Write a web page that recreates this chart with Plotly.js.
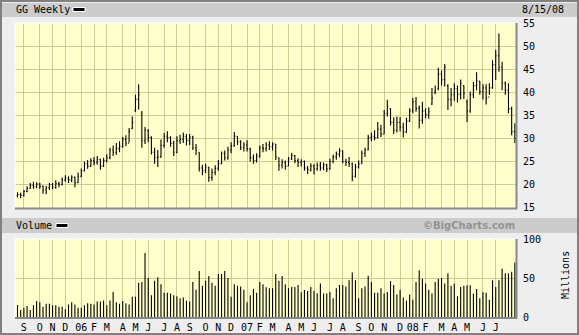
<!DOCTYPE html>
<html><head><meta charset="utf-8">
<script src="https://cdn.plot.ly/plotly-3.0.1.min.js"></script>
<style>html,body{margin:0;padding:0;background:#eeeeee;}#chart{width:579px;height:335px;}</style>
</head><body><div id="chart"></div>
<script>
// Weekly bars (Fridays) from 2005-08-19 to 2008-08-15
const startDate = '2005-08-19';
const weekCount = 157;

const openPrices = [17.5,17.8,17.6,18.5,19.2,19.8,19.5,20.1,19.6,18.8,
19.3,20.0,19.4,20.2,20.0,21.0,21.4,21.0,21.6,20.4,
21.8,23.0,24.5,24.0,25.2,24.8,25.5,24.0,25.2,25.8,
27.5,27.0,27.8,28.3,29.8,29.0,32.2,36.0,38.5,35.5,
29.5,31.8,30.2,27.0,25.8,26.0,28.5,30.5,30.2,29.0,
27.0,29.5,29.8,30.5,29.6,30.3,28.0,27.0,23.6,23.0,
23.8,21.5,22.6,23.5,24.5,26.8,25.8,27.5,28.4,30.5,
29.3,28.0,28.6,27.8,25.8,25.2,26.2,28.0,27.8,28.6,
28.2,28.8,25.8,24.2,24.8,24.0,25.6,26.3,25.2,24.8,
25.0,23.6,23.2,24.0,23.4,24.2,23.6,24.3,23.4,25.0,
26.0,26.6,27.3,25.0,24.8,24.5,21.8,23.8,24.5,26.8,
27.5,30.2,30.5,30.2,32.0,31.0,35.5,36.5,33.5,31.8,
33.5,32.5,31.5,33.8,36.0,38.0,36.5,34.0,36.0,35.2,
37.5,40.0,40.8,44.0,42.8,41.5,38.5,39.5,40.8,39.6,
41.5,38.0,36.0,39.5,41.5,42.5,40.2,41.0,39.0,41.0,
46.0,48.0,45.5,42.0,40.5,36.5,31.5];

const highPrices = [18.3,18.2,18.8,19.6,20.3,20.6,20.5,20.4,19.8,19.7,
20.4,20.3,20.9,20.6,21.5,22.0,21.8,22.0,21.7,22.6,
23.5,25.0,25.3,25.7,26.0,26.2,25.6,25.8,26.6,28.0,
28.5,29.0,29.4,30.4,30.7,32.3,34.8,39.5,41.8,36.0,
32.5,32.0,30.5,28.0,27.5,29.8,31.2,31.6,30.5,29.5,
30.5,30.8,31.3,31.0,31.0,30.6,28.8,27.0,24.3,24.5,
23.8,23.5,24.2,25.3,27.2,27.4,28.2,29.2,31.4,30.5,
29.6,29.2,29.6,28.0,26.5,26.8,28.5,28.8,29.2,29.4,
29.2,28.8,25.8,25.5,25.2,26.0,26.9,26.4,25.7,25.5,
25.2,24.0,24.6,24.4,24.8,24.9,24.8,24.5,25.6,26.5,
27.2,27.9,27.4,25.6,26.0,24.8,24.5,25.2,27.4,28.0,
30.8,31.3,31.8,33.6,33.0,36.2,38.4,36.6,34.6,34.8,
34.7,33.4,34.5,36.6,38.8,39.0,37.2,38.0,36.6,36.8,
41.0,41.5,45.4,44.8,46.2,41.8,41.0,42.0,41.5,42.8,
41.5,38.5,40.2,42.3,44.4,42.5,41.8,41.8,42.0,47.0,
49.3,52.8,46.7,42.4,42.0,36.9,33.3];

const lowPrices = [17.2,17.0,17.4,18.3,19.0,19.1,19.2,19.0,18.0,17.9,
18.8,19.0,19.1,19.4,19.8,20.6,20.3,20.5,19.4,20.3,
21.6,22.8,23.4,23.8,24.2,24.3,23.2,23.8,24.8,25.5,
26.2,26.4,27.0,28.0,28.3,29.2,32.0,35.8,36.3,28.0,
28.8,29.2,26.5,24.5,23.8,25.8,28.0,29.2,28.2,26.2,
26.8,28.8,29.0,28.5,28.6,27.5,26.4,22.8,22.0,22.5,
20.6,20.8,22.0,23.0,24.4,25.2,25.4,26.8,28.2,28.6,
27.5,27.2,27.2,25.0,24.5,24.8,25.8,27.0,27.2,27.5,
27.4,25.3,23.0,23.5,23.2,24.0,25.3,24.6,23.8,23.9,
23.0,22.3,22.8,22.2,23.0,23.0,23.1,22.7,23.2,24.6,
25.4,25.9,24.6,24.0,23.8,20.7,21.5,23.5,24.5,26.0,
27.4,29.4,29.6,30.0,30.3,31.0,34.8,32.8,31.0,31.3,
31.5,30.2,31.2,33.6,35.5,35.8,32.2,33.2,34.4,34.3,
37.3,39.6,40.5,41.5,41.3,36.2,37.0,38.2,37.8,38.5,
38.6,33.6,35.6,38.8,40.5,39.5,38.5,37.4,39.5,40.8,
42.7,44.5,40.5,39.5,35.5,30.7,29.0];

const closePrices = [17.8,17.6,18.5,19.2,19.8,19.5,20.1,19.6,18.8,19.3,
20.0,19.4,20.2,20.0,21.0,21.4,21.0,21.6,20.4,21.8,
23.0,24.5,24.0,25.2,24.8,25.5,24.0,25.2,25.8,27.5,
27.0,27.8,28.3,29.8,29.0,31.5,33.5,38.5,39.5,29.5,
31.8,30.2,27.0,25.8,26.0,28.5,30.5,30.2,29.0,27.0,
29.5,29.8,30.5,29.6,30.3,28.0,27.5,23.6,23.0,23.8,
21.5,22.6,23.5,24.5,26.8,25.8,27.5,28.4,30.5,29.3,
28.0,28.6,27.8,25.8,25.2,26.2,28.0,27.8,28.6,28.2,
28.8,26.0,24.2,24.8,24.0,25.6,26.3,25.2,24.8,25.0,
23.6,23.2,24.0,23.4,24.2,23.6,24.3,23.4,25.0,26.0,
26.6,27.3,25.0,24.8,24.5,21.8,23.8,24.5,26.8,27.5,
30.2,30.5,30.2,32.0,31.0,35.5,37.0,33.5,31.8,33.5,
32.5,31.5,33.8,36.0,38.0,36.5,34.0,36.0,35.2,35.8,
38.8,40.5,44.0,42.8,45.5,38.5,39.5,40.8,39.6,42.0,
39.8,36.0,39.5,41.5,42.5,40.2,41.0,38.8,41.0,46.0,
48.0,45.5,42.0,40.5,36.5,31.5,30.0];

// Volume, millions of shares
const volumeMillions = [15.4,9,12,14,9,15,20.5,19,13,17,
17,15,15,13,13,10,16,19,16,12,
12,15,17.5,17,16,20,20,21,15,21,
32,19,17,20.5,17.5,16,26,26,44,45,
82,50,28,46.5,51,42,31,31,30,28,
26.5,24,25,21,20,45,35,59,40,46.5,
52.5,44,40,55,55,59,50,26,42,40,
39,35,19,28,36,31,45,42,38,37,
37,55,46.5,52.5,42,37,38.5,38.5,
41,31.6,34.6,33.3,38.5,33.3,30.3,
43,30,30,32,24,37,41,41,39,47,
57,47,24,37,39,53,45,31,31,37,
30,32,46,41,29,35,25,21,29,22,45,
60,49,43,35,30,45,49,50,43,56,
40,43,26.5,38.5,40,40.6,40.6,30,36,24,
32,31,22,47,38.5,47,62,56,56,58,70];

// Month ticks (first weekly bar of each month)
const monthTickDates = ['2005-09-02','2005-10-07','2005-11-04','2005-12-02','2006-01-06','2006-02-03','2006-03-03','2006-04-07','2006-05-05','2006-06-02','2006-07-07','2006-08-04','2006-09-01','2006-10-06','2006-11-03','2006-12-01','2007-01-05','2007-02-02','2007-03-02','2007-04-06','2007-05-04','2007-06-01','2007-07-06','2007-08-03','2007-09-07','2007-10-05','2007-11-02','2007-12-07','2008-01-04','2008-02-01','2008-03-07','2008-04-04','2008-05-02','2008-06-06','2008-07-04'];
const monthTickLabels = ['S','O','N','D','06','F','M','A','M','J','J','A','S','O','N','D','07','F','M','A','M','J','J','A','S','O','N','D','08','F','M','A','M','J','J'];
const priceTicks = [15,20,25,30,35,40,45,50,55];
const volumeTicks = [0,50,100];

const dates = [];
{
  const d0 = new Date(startDate + 'T00:00:00Z');
  for (let i = 0; i < weekCount; i++) {
    const d = new Date(d0.getTime() + i * 7 * 86400000);
    dates.push(d.toISOString().slice(0, 10));
  }
}

const W = 579, H = 335;
const px = v => v / W;
const py = v => 1 - v / H;

const GRID = '#cccc90';
const MONO = 'DejaVu Sans Mono, monospace';
const xRange = ['2005-08-13 12:00', '2008-08-17 12:00'];
const xDomain = [px(15), px(516)];

const traces = [
  {
    type: 'ohlc', x: dates, open: openPrices, high: highPrices, low: lowPrices, close: closePrices,
    xaxis: 'x', yaxis: 'y', tickwidth: 0.3,
    increasing: {line: {color: '#000000', width: 1.1}},
    decreasing: {line: {color: '#000000', width: 1.1}},
    hoverinfo: 'skip'
  },
  {
    type: 'bar', x: dates, y: volumeMillions, xaxis: 'x2', yaxis: 'y2',
    width: 2.4 * 86400000, marker: {color: '#000000', line: {width: 0}},
    hoverinfo: 'skip'
  }
];

const baseX = {
  type: 'date', domain: xDomain, range: xRange, tickmode: 'array',
  tickvals: monthTickDates, showgrid: true, gridcolor: GRID, gridwidth: 1,
  zeroline: false, showline: false, ticks: '', fixedrange: true
};

const layout = {
  width: W, height: H, margin: {l: 0, r: 0, t: 0, b: 0},
  paper_bgcolor: '#eeeeee', plot_bgcolor: '#ffffcc', showlegend: false,
  xaxis: Object.assign({}, baseX, {anchor: 'y', showticklabels: false, rangeslider: {visible: false}}),
  yaxis: {
    domain: [127.5 / H, 311.5 / H], range: [15, 55], side: 'right', anchor: 'x',
    tickmode: 'array', tickvals: priceTicks, ticktext: priceTicks.map(String),
    showgrid: true, gridcolor: GRID, zeroline: false, showline: false, ticks: '',
    ticklabelstandoff: 6, tickfont: {family: MONO, size: 10, color: '#000'}
  },
  xaxis2: Object.assign({}, baseX, {anchor: 'y2', showticklabels: true, ticktext: monthTickLabels,
    tickfont: {family: MONO, size: 10, color: '#000'}, ticklabelstandoff: 3}),
  yaxis2: {
    domain: [18 / H, 96 / H], range: [0, 100], side: 'right', anchor: 'x2',
    tickmode: 'array', tickvals: volumeTicks, ticktext: volumeTicks.map(String),
    showgrid: true, gridcolor: GRID, zeroline: false, showline: false, ticks: '',
    ticklabelstandoff: 6, tickfont: {family: MONO, size: 10, color: '#000'}
  },
  shapes: [
    {type: 'rect', xref: 'paper', yref: 'paper', x0: px(2), x1: px(577), y0: py(17), y1: py(3), fillcolor: '#cccccc', line: {width: 0}, layer: 'below'},
    {type: 'rect', xref: 'paper', yref: 'paper', x0: px(2), x1: px(577), y0: py(233), y1: py(218), fillcolor: '#cccccc', line: {width: 0}, layer: 'below'},
    {type: 'rect', xref: 'paper', yref: 'paper', x0: px(73), x1: px(85), y0: py(11.5), y1: py(7.5), fillcolor: '#000', line: {color: '#fff', width: 1}},
    {type: 'rect', xref: 'paper', yref: 'paper', x0: px(56), x1: px(68), y0: py(227.5), y1: py(223.5), fillcolor: '#000', line: {color: '#fff', width: 1}},
    {type: 'line', xref: 'paper', yref: 'paper', x0: px(15), x1: px(516), y0: py(23), y1: py(23), line: {color: '#ffffff', width: 1}},
    {type: 'line', xref: 'paper', yref: 'paper', x0: px(15), x1: px(15), y0: py(23), y1: py(208), line: {color: '#ffffff', width: 1}},
    {type: 'line', xref: 'paper', yref: 'paper', x0: px(15), x1: px(517), y0: py(208.5), y1: py(208.5), line: {color: '#888888', width: 2}},
    {type: 'line', xref: 'paper', yref: 'paper', x0: px(516.5), x1: px(516.5), y0: py(23), y1: py(209), line: {color: '#888888', width: 2}},
    {type: 'line', xref: 'paper', yref: 'paper', x0: px(15), x1: px(516), y0: py(239), y1: py(239), line: {color: '#ffffff', width: 1}},
    {type: 'line', xref: 'paper', yref: 'paper', x0: px(15), x1: px(15), y0: py(239), y1: py(317), line: {color: '#ffffff', width: 1}},
    {type: 'line', xref: 'paper', yref: 'paper', x0: px(15), x1: px(517), y0: py(318), y1: py(318), line: {color: '#888888', width: 2}},
    {type: 'line', xref: 'paper', yref: 'paper', x0: px(516.5), x1: px(516.5), y0: py(239), y1: py(318.5), line: {color: '#888888', width: 2}},
    {type: 'rect', xref: 'paper', yref: 'paper', x0: px(1), x1: px(578), y0: py(334), y1: py(1), line: {color: '#808080', width: 2}, fillcolor: 'rgba(0,0,0,0)'}
  ],
  annotations: [
    {xref: 'paper', yref: 'paper', x: px(14), y: py(10), xanchor: 'left', yanchor: 'middle', showarrow: false, text: 'GG Weekly', font: {family: MONO, size: 10, color: '#000'}},
    {xref: 'paper', yref: 'paper', x: px(566), y: py(10), xanchor: 'right', yanchor: 'middle', showarrow: false, text: '8/15/08', font: {family: MONO, size: 10, color: '#000'}},
    {xref: 'paper', yref: 'paper', x: px(14), y: py(225.5), xanchor: 'left', yanchor: 'middle', showarrow: false, text: 'Volume', font: {family: MONO, size: 10, color: '#000'}},
    {xref: 'paper', yref: 'paper', x: px(517), y: py(225.5), xanchor: 'right', yanchor: 'middle', showarrow: false, text: '<b>©BigCharts.com</b>', font: {family: 'DejaVu Sans, Verdana, sans-serif', size: 10, color: '#939393'}},
    {xref: 'paper', yref: 'paper', x: px(565), y: py(275), xanchor: 'center', yanchor: 'middle', showarrow: false, textangle: -90, text: 'Millions', font: {family: MONO, size: 10, color: '#000'}}
  ]
};

Plotly.newPlot('chart', traces, layout, {staticPlot: true, displayModeBar: false});
</script></body></html>
